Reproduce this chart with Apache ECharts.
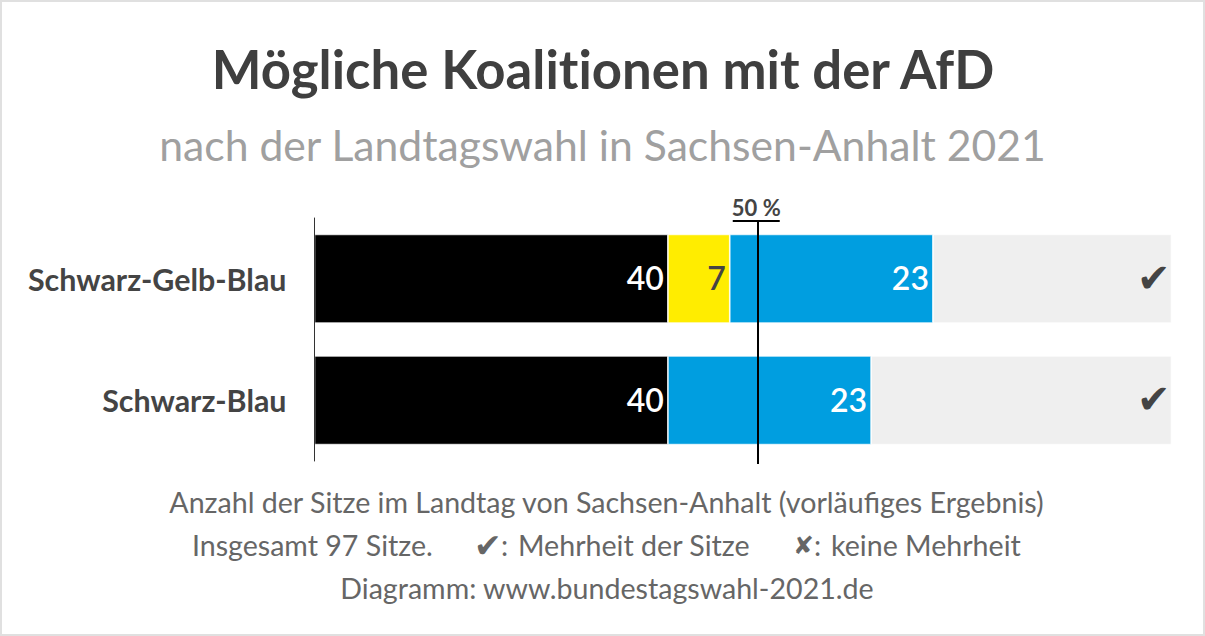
<!DOCTYPE html>
<html><head><meta charset="utf-8">
<style>html,body{margin:0;padding:0;background:#fff}#c{width:1205px;height:636px}
text[style*="52.7px"]{font-variant-ligatures:none !important}</style>
<script src="https://cdn.jsdelivr.net/npm/echarts@6/dist/echarts.min.js"></script>
</head><body><div id="c"></div>
<script>
const categories = ['Schwarz-Gelb-Blau', 'Schwarz-Blau'];
const cdu = [40, 40];
const fdp = [7, null];
const afd = [23, 23];
const rest = [27, 34];
const restMarks = ['✔', '✔'];
const totalSeats = 97;
const majorityLine = 50.2;
const majorityCap = 50;
const FONT = 'Lato, sans-serif';
const SYM = '"DejaVu Sans", sans-serif';

function seg(name, data, color, labelColor) {
  return {
    name, type: 'bar', stack: 'k', data, barWidth: 88.7,
    xAxisIndex: 0, yAxisIndex: 0,
    itemStyle: { color, borderColor: '#fff', borderWidth: 0.7 },
    label: { show: true, position: 'insideRight', distance: 4, offset: [0, -1], color: labelColor,
      fontFamily: FONT, fontSize: 32, fontWeight: 600 }
  };
}
function txt(left, top, text, font, color, align) {
  return { type: 'text', x: left, y: top, silent: true,
    style: { text, font, fill: color, align: align || 'center', verticalAlign: 'middle' } };
}
const F = '400 28.6px Lato';
const chart = echarts.init(document.getElementById('c'), null, { renderer: 'svg' });
chart.setOption({
  animation: false,
  backgroundColor: '#fff',
  grid: [
    { left: 314.5, width: 857, top: 218, height: 243 },
    { left: 314.5, width: 857, top: 221, height: 243 }
  ],
  xAxis: [
    { type: 'value', gridIndex: 0, min: 0, max: totalSeats, show: false },
    { type: 'value', gridIndex: 1, min: 0, max: totalSeats, show: false }
  ],
  yAxis: [
    { type: 'category', gridIndex: 0, inverse: true, data: categories, z: 5,
      axisTick: { show: false },
      axisLine: { show: true, lineStyle: { color: '#333', width: 1 } },
      axisLabel: { margin: 28, color: '#444', fontFamily: FONT, fontSize: 30.4, fontWeight: 700, padding: [0, 0, 2, 0] } },
    { type: 'value', gridIndex: 1, min: 0, max: 1, show: false }
  ],
  series: [
    seg('CDU', cdu, '#000000', '#fff'),
    seg('FDP', fdp, '#ffed00', '#444'),
    seg('AfD', afd, '#009ee0', '#fff'),
    Object.assign(seg('Rest', rest, '#efefef', '#444'), {
      label: { show: true, position: 'insideRight', distance: 1, offset: [0, -1], color: '#444', fontFamily: SYM, fontSize: 40,
        formatter: p => restMarks[p.dataIndex] }
    }),
    { type: 'line', xAxisIndex: 1, yAxisIndex: 1, z: 10, symbol: 'none', silent: true,
      data: [[majorityLine, 0], [majorityLine, 1]],
      lineStyle: { color: '#000', width: 2 } },
    { type: 'scatter', xAxisIndex: 1, yAxisIndex: 1, z: 10, silent: true,
      data: [[majorityCap, 1]], symbol: 'rect', symbolSize: [47, 2],
      itemStyle: { color: '#000', opacity: 1 },
      label: { show: true, position: 'top', distance: 2, formatter: '50 %', color: '#444',
        fontFamily: FONT, fontSize: 22, fontWeight: 700 } }
  ],
  graphic: [
    { type: 'rect', silent: true, shape: { x: 1, y: 1, width: 1203, height: 634 },
      style: { fill: 'none', stroke: '#e0e0e0', lineWidth: 2 } },
    txt(603, 68, 'Mögliche Koalitionen mit der AfD', '700 52.7px Lato', '#3f3f3f'),
    txt(602.5, 144, 'nach der Landtagswahl in Sachsen-Anhalt 2021', '400 42.7px Lato', '#a0a0a0'),
    txt(606.5, 502, 'Anzahl der Sitze im Landtag von Sachsen-Anhalt (vorläufiges Ergebnis)', F, '#666'),
    txt(192, 545, 'Insgesamt 97 Sitze.', F, '#666', 'left'),
    txt(474, 545, '✔', '400 33px "DejaVu Sans"', '#666', 'left'),
    txt(501, 545, ':', F, '#666', 'left'),
    txt(518, 545, 'Mehrheit der Sitze', F, '#666', 'left'),
    txt(793, 545, '✘', '400 25px "DejaVu Sans"', '#666', 'left'),
    txt(814, 545, ':', F, '#666', 'left'),
    txt(831, 545, 'keine Mehrheit', F, '#666', 'left'),
    txt(607, 588, 'Diagramm: www.bundestagswahl-2021.de', F, '#666')
  ]
});
</script></body></html>
